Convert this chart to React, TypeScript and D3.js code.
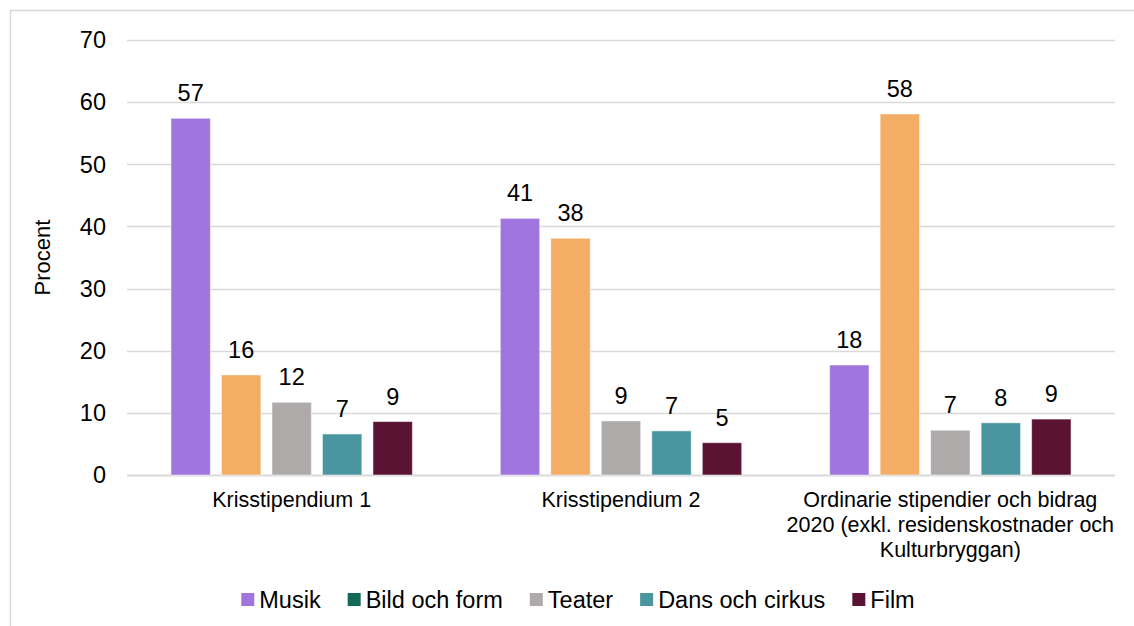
import * as d3 from "d3";
import { useRef, useEffect } from "react";

const categories = [
  "Krisstipendium 1",
  "Krisstipendium 2",
  "Ordinarie stipendier och bidrag 2020 (exkl. residenskostnader och Kulturbryggan)",
];
const categoryLines = [
  ["Krisstipendium 1"],
  ["Krisstipendium 2"],
  ["Ordinarie stipendier och bidrag", "2020 (exkl. residenskostnader och", "Kulturbryggan)"],
];

const seriesNames = ["Musik", "Bild och form", "Teater", "Dans och cirkus", "Film"];
const musik = [57.4, 41.3, 17.7];
const bildOchForm = [16.1, 38.1, 58.1];
const teater = [11.7, 8.7, 7.2];
const dansOchCirkus = [6.6, 7.1, 8.4];
const film = [8.6, 5.2, 9.0];
const seriesValues = [musik, bildOchForm, teater, dansOchCirkus, film];

const barColors = ["#a175de", "#f4ad65", "#aeaaaa", "#4a96a0", "#5a1333"];
const legendColors = ["#a175de", "#136857", "#aeaaaa", "#4a96a0", "#5a1333"];

const yTicks = [0, 10, 20, 30, 40, 50, 60, 70];

const W = 1134;
const H = 626;
const margin = { top: 40, left: 127, right: 19, bottom: 151 };
const FONT = "Liberation Sans, Arial, sans-serif";

const App = () => {
  const ref = useRef(null);

  useEffect(() => {
    const svg = d3.select(ref.current);
    svg.selectAll("*").remove();

    const plotBottom = H - margin.bottom;
    const x = d3.scaleBand()
      .domain(categories)
      .range([margin.left, W - margin.right])
      .padding(0);
    const y = d3.scaleLinear()
      .domain([0, 70])
      .range([plotBottom, margin.top]);

    const groupWidth = 252.5;
    const inner = d3.scaleBand()
      .domain(seriesNames)
      .range([0, groupWidth])
      .paddingInner(0.22)
      .paddingOuter(0.11);

    // chart border
    svg.append("rect")
      .attr("x", 10.5).attr("y", 10.5)
      .attr("width", W + 20).attr("height", H + 20)
      .attr("fill", "white")
      .attr("stroke", "#d9d9d9")
      .attr("stroke-width", 1.5);

    // gridlines
    svg.append("g")
      .selectAll("line")
      .data(yTicks)
      .enter()
      .append("line")
      .attr("x1", margin.left)
      .attr("x2", W - margin.right)
      .attr("y1", d => Math.round(y(d)) + 0.5)
      .attr("y2", d => Math.round(y(d)) + 0.5)
      .attr("stroke", "#d9d9d9")
      .attr("stroke-width", d => d === 0 ? 2 : 1.3);

    // y tick labels
    svg.append("g")
      .selectAll("text")
      .data(yTicks)
      .enter()
      .append("text")
      .attr("x", 106)
      .attr("y", d => y(d))
      .attr("dy", "0.35em")
      .attr("text-anchor", "end")
      .attr("font-family", FONT)
      .attr("font-size", 23.5)
      .attr("fill", "#000")
      .text(d => d);

    // y title
    svg.append("text")
      .attr("transform", `translate(50, ${(margin.top + plotBottom) / 2}) rotate(-90)`)
      .attr("text-anchor", "middle")
      .attr("font-family", FONT)
      .attr("font-size", 22)
      .text("Procent");

    // bars
    seriesNames.forEach((name, si) => {
      const g = svg.append("g");
      g.selectAll("rect")
        .data(seriesValues[si])
        .enter()
        .append("rect")
        .attr("x", (d, i) => x(categories[i]) + x.bandwidth() / 2 - groupWidth / 2 + inner(name))
        .attr("y", d => y(d))
        .attr("width", inner.bandwidth())
        .attr("height", d => plotBottom - y(d))
        .attr("fill", barColors[si])
        .attr("stroke", "white")
        .attr("stroke-opacity", 0.5)
        .attr("stroke-width", 1);

      g.selectAll("text")
        .data(seriesValues[si])
        .enter()
        .append("text")
        .attr("x", (d, i) => x(categories[i]) + x.bandwidth() / 2 - groupWidth / 2 + inner(name) + inner.bandwidth() / 2)
        .attr("y", d => y(d) - 17)
        .attr("text-anchor", "middle")
        .attr("font-family", FONT)
        .attr("font-size", 23.5)
        .text(d => Math.round(d));
    });

    // category labels
    categories.forEach((c, i) => {
      const t = svg.append("text")
        .attr("text-anchor", "middle")
        .attr("font-family", FONT)
        .attr("font-size", 21.5)
        .attr("fill", "#000");
      categoryLines[i].forEach((line, li) => {
        t.append("tspan")
          .attr("x", x(c) + x.bandwidth() / 2)
          .attr("y", plotBottom + 32 + li * 25)
          .text(line);
      });
    });

    // legend
    const legend = svg.append("g");
    let cursor = 0;
    seriesNames.forEach((name, si) => {
      const item = legend.append("g");
      item.append("rect")
        .attr("x", 0).attr("y", -7)
        .attr("width", 13).attr("height", 13)
        .attr("fill", legendColors[si]);
      const txt = item.append("text")
        .attr("x", 18)
        .attr("y", 0)
        .attr("dy", "0.35em")
        .attr("font-family", FONT)
        .attr("font-size", 23.5)
        .text(name);
      const w = 18 + txt.node().getComputedTextLength();
      item.attr("transform", `translate(${cursor}, 0)`);
      cursor += w + 27;
    });
    const total = cursor - 27;
    legend.attr("transform", `translate(${(W + 20) / 2 - total / 2 + 1}, 600)`);
  }, []);

  return (
    <svg ref={ref} width={W} height={H} style={{ position: "absolute", left: 0, top: 0, display: "block" }}></svg>
  );
};

export default App;
